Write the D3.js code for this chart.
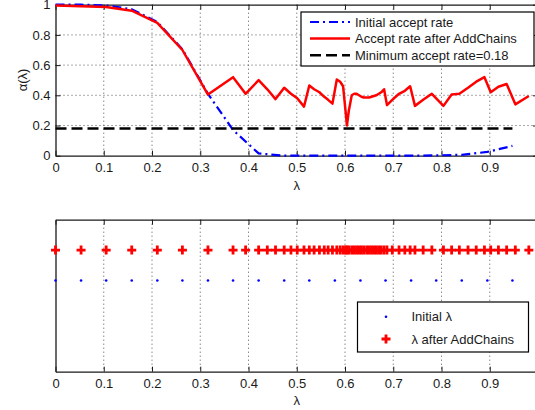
<!DOCTYPE html>
<html>
<head>
<meta charset="utf-8">
<script src="https://cdn.jsdelivr.net/npm/d3@7"></script>
<style>
  body { margin: 0; background: #fff; }
  svg { display: block; font-family: "Liberation Sans", Arial, sans-serif; }
  .axis text { font-size: 13px; fill: #1a1a1a; }
  .axis path, .axis line { stroke: #1a1a1a; }
</style>
</head>
<body>
<div id="chart"></div>
<script>
//Datos
const lambdaInit = [0, 0.053, 0.105, 0.158, 0.211, 0.263, 0.316, 0.368, 0.421, 0.474,
    0.526, 0.579, 0.632, 0.684, 0.737, 0.789, 0.842, 0.895, 0.947];
const rateInit = [1.0, 1.0, 0.995, 0.97, 0.885, 0.705, 0.41, 0.17, 0.015, 0.0,
    0.0, 0.0, 0.0, 0.0, 0.0, 0.002, 0.006, 0.025, 0.065];

const lambdaAdd = [0, 0.053, 0.105, 0.158, 0.211, 0.263, 0.316, 0.368, 0.394, 0.421,
    0.439, 0.456, 0.474, 0.488, 0.501, 0.515, 0.526, 0.536, 0.547, 0.557,
    0.565, 0.574, 0.583, 0.590, 0.596, 0.601, 0.604, 0.608, 0.614, 0.619,
    0.624, 0.629, 0.634, 0.639, 0.645, 0.650, 0.655, 0.660, 0.665, 0.670,
    0.675, 0.681, 0.687, 0.698, 0.712, 0.724, 0.735, 0.745, 0.762, 0.780,
    0.804, 0.821, 0.837, 0.855, 0.872, 0.889, 0.902, 0.918, 0.935, 0.953, 0.981];
const rateAdd = [0.995, 0.99, 0.985, 0.96, 0.88, 0.70, 0.405, 0.52, 0.41, 0.50,
    0.44, 0.375, 0.45, 0.41, 0.38, 0.325, 0.465, 0.44, 0.42, 0.39,
    0.37, 0.345, 0.505, 0.49, 0.46, 0.30, 0.20, 0.30, 0.40, 0.41,
    0.41, 0.40, 0.39, 0.385, 0.385, 0.385, 0.39, 0.395, 0.40, 0.41,
    0.42, 0.44, 0.335, 0.37, 0.41, 0.43, 0.46, 0.33, 0.37, 0.41,
    0.33, 0.405, 0.41, 0.45, 0.49, 0.52, 0.42, 0.457, 0.475, 0.34, 0.395];

const minRate = 0.18;
const xTicks = [0, 0.1, 0.2, 0.3, 0.4, 0.5, 0.6, 0.7, 0.8, 0.9];
const yTicks = [0, 0.2, 0.4, 0.6, 0.8, 1];

//Filas del panel inferior
const rowInit = 3, rowAdd = 4;

const W = 535, H = 410;
const svg = d3.select("#chart").append("svg")
    .attr("width", W).attr("height", H);

let x = d3.scaleLinear().domain([0, 1]).range([55.5, 538]);
let y = d3.scaleLinear().domain([0, 1]).range([155.7, 4.7]);
let y2 = d3.scaleLinear().domain([0, 5]).range([371.7, 219.7]);

const GRID = "#555", TICK = 5;

function drawFrame(yScale, showY) {
    let top = yScale.range()[1], bottom = yScale.range()[0];
    let g = svg.append("g");

    //rejilla punteada
    g.selectAll(".vgrid").data(xTicks.slice(1)).enter().append("line")
        .attr("x1", d => x(d)).attr("x2", d => x(d))
        .attr("y1", top).attr("y2", bottom)
        .attr("stroke", GRID).attr("stroke-width", 1)
        .attr("stroke-dasharray", "1,3");
    if (showY) {
        g.selectAll(".hgrid").data(yTicks.slice(1, -1)).enter().append("line")
            .attr("x1", x.range()[0]).attr("x2", x.range()[1])
            .attr("y1", d => yScale(d)).attr("y2", d => yScale(d))
            .attr("stroke", GRID).attr("stroke-width", 1)
            .attr("stroke-dasharray", "1,3");
    }

    //ejes
    g.append("g").attr("class", "axis")
        .attr("transform", "translate(0," + bottom + ")")
        .call(d3.axisBottom(x).tickValues(xTicks).tickSizeInner(-TICK).tickSizeOuter(0)
            .tickPadding(7).tickFormat(d3.format("~g")));
    g.append("g").attr("class", "axis")
        .attr("transform", "translate(0," + top + ")")
        .call(d3.axisTop(x).tickValues(xTicks).tickSizeInner(-TICK).tickSizeOuter(0)
            .tickFormat(""));
    let left = d3.axisLeft(yScale).tickSizeOuter(0);
    let right = d3.axisRight(yScale).tickSizeOuter(0).tickFormat("");
    if (showY) {
        left.tickValues(yTicks).tickSizeInner(-TICK).tickPadding(5).tickFormat(d3.format("~g"));
        right.tickValues(yTicks).tickSizeInner(-TICK);
    } else {
        left.tickValues([]);
        right.tickValues([]);
    }
    g.append("g").attr("class", "axis")
        .attr("transform", "translate(" + x.range()[0] + ",0)").call(left);
    g.append("g").attr("class", "axis")
        .attr("transform", "translate(" + x.range()[1] + ",0)").call(right);
    g.selectAll(".axis path").attr("stroke-width", 1.3);
    return g;
}

//Panel superior
drawFrame(y, true);

let line = d3.line().x(d => x(d[0])).y(d => y(d[1]));

svg.append("path")
    .datum(lambdaInit.map((l, i) => [l, rateInit[i]]))
    .attr("d", line).attr("fill", "none")
    .attr("stroke", "#0000ff").attr("stroke-width", 2.2)
    .attr("stroke-dasharray", "9,4,2,4");

svg.append("path")
    .datum([[lambdaInit[0], minRate], [lambdaInit[lambdaInit.length - 1], minRate]])
    .attr("d", line).attr("fill", "none")
    .attr("stroke", "#000").attr("stroke-width", 2.5)
    .attr("stroke-dasharray", "11,5");

svg.append("path")
    .datum(lambdaAdd.map((l, i) => [l, rateAdd[i]]))
    .attr("d", line).attr("fill", "none")
    .attr("stroke", "#ff0000").attr("stroke-width", 2.5)
    .attr("stroke-linejoin", "round");

svg.append("text").attr("transform", "translate(22,80) rotate(-90)")
    .attr("text-anchor", "middle").attr("dy", "0.35em")
    .attr("font-size", 13).attr("fill", "#1a1a1a")
    .text("α(λ)");
svg.append("text").attr("x", x(0.5)).attr("y", 190)
    .attr("text-anchor", "middle").attr("font-size", 13).attr("fill", "#1a1a1a")
    .text("λ");

//Leyenda superior
let leg1 = svg.append("g");
leg1.append("rect").attr("x", 301).attr("y", 12).attr("width", 233).attr("height", 54)
    .attr("fill", "#fff").attr("stroke", "#000").attr("stroke-width", 1.2);
const leg1Items = [
    { label: "Initial accept rate", color: "#0000ff", dash: "9,4,2,4", w: 2.2 },
    { label: "Accept rate after AddChains", color: "#ff0000", dash: null, w: 2.5 },
    { label: "Minimum accept rate=0.18", color: "#000", dash: "11,5", w: 2.5 }
];
leg1Items.forEach((it, i) => {
    let yy = 22 + i * 16.6;
    leg1.append("line").attr("x1", 310).attr("x2", 350).attr("y1", yy).attr("y2", yy)
        .attr("stroke", it.color).attr("stroke-width", it.w)
        .attr("stroke-dasharray", it.dash);
    leg1.append("text").attr("x", 355).attr("y", yy + 4.6)
        .attr("font-size", 13).attr("fill", "#1a1a1a").text(it.label);
});

//Panel inferior
drawFrame(y2, false);

let plus = "M-4.5,0H4.5M0,-4.5V4.5";
svg.append("g").selectAll("circle").data(lambdaInit).enter().append("circle")
    .attr("cx", d => x(d)).attr("cy", y2(rowInit)).attr("r", 1.3)
    .attr("fill", "#0000ff");
svg.append("g").selectAll("path").data(lambdaAdd).enter().append("path")
    .attr("d", plus).attr("transform", d => "translate(" + x(d) + "," + y2(rowAdd) + ")")
    .attr("stroke", "#ff0000").attr("stroke-width", 2.8).attr("fill", "none");

svg.append("text").attr("x", x(0.5)).attr("y", 405)
    .attr("text-anchor", "middle").attr("font-size", 13).attr("fill", "#1a1a1a")
    .text("λ");

//Leyenda inferior
let leg2 = svg.append("g");
leg2.append("rect").attr("x", 357.5).attr("y", 302).attr("width", 171).attr("height", 50)
    .attr("fill", "#fff").attr("stroke", "#000").attr("stroke-width", 1.2);
leg2.append("circle").attr("cx", 386).attr("cy", 316.7).attr("r", 1.3).attr("fill", "#0000ff");
leg2.append("text").attr("x", 411.5).attr("y", 321.3)
    .attr("font-size", 13).attr("fill", "#1a1a1a").text("Initial λ");
leg2.append("path").attr("d", plus).attr("transform", "translate(386,339)")
    .attr("stroke", "#ff0000").attr("stroke-width", 2.8);
leg2.append("text").attr("x", 411.5).attr("y", 343.6)
    .attr("font-size", 13).attr("fill", "#1a1a1a").text("λ after AddChains");
</script>
</body>
</html>
